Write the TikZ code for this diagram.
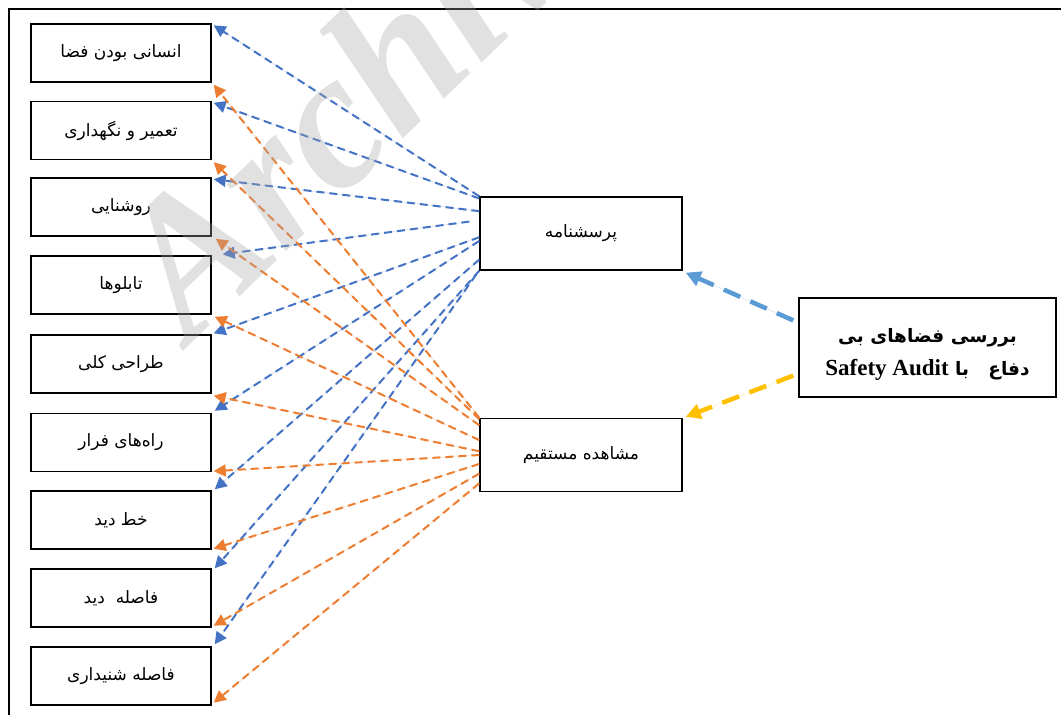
\documentclass[tikz,border=0pt]{standalone}
\usepackage{fontspec}
\setmainfont{Liberation Serif}
\newfontfamily\arabicfont[Script=Arabic]{DejaVu Sans}
\newfontfamily\wmfont{Liberation Serif}
\TeXXeTstate=1
\usetikzlibrary{arrows.meta,calc}
\definecolor{cblue}{HTML}{4472C4}
\definecolor{corange}{HTML}{ED7D31}
\definecolor{clblue}{HTML}{5B9BD5}
\definecolor{cgold}{HTML}{FFC000}
\newcommand\fa[1]{\beginR #1\endR}
\begin{document}
\begin{tikzpicture}[x=1pt,y=-1pt,
  lbox/.style={draw=black, line width=1.4pt, minimum width=180pt, minimum height=58pt, inner sep=0pt,
    font=\arabicfont\fontsize{17}{20}\selectfont},
  mbox/.style={draw=black, line width=1.4pt, minimum width=202pt, minimum height=73pt, inner sep=0pt,
    font=\arabicfont\fontsize{17}{20}\selectfont},
  rbox/.style={draw=black, line width=1.4pt, minimum width=257pt, minimum height=99pt, inner sep=0pt,
    font=\arabicfont\bfseries\fontsize{18.5}{27}\selectfont},
  bline/.style={draw=cblue, line width=2pt, dash pattern=on 8pt off 5pt, -{Triangle[length=12pt,width=12pt]}, fill=cblue},
  oline/.style={draw=corange, line width=2pt, dash pattern=on 8pt off 5pt, -{Triangle[length=12pt,width=12pt]}, fill=corange},
  bigline/.style={line width=4.5pt, dash pattern=on 18pt off 11pt, -{Triangle[length=15pt,width=15pt]}},
  wm/.style={rotate=44, anchor=base west, text=black!35, opacity=0.33, inner sep=0pt,
    font=\wmfont\bfseries\itshape\fontsize{195}{195}\selectfont}
]
\useasboundingbox (0,0) rectangle (1061,715);
\clip (0,0) rectangle (1061,715);
\fill[white] (0,0) rectangle (1061,715);
% frame
\draw[line width=2pt] (8.5,715) -- (8.5,8.5) -- (1061,8.5);

% left boxes
\node[lbox] (b1) at (121,53) {\fa{انسانی بودن فضا}};
\node[lbox] (b2) at (121,130.5) {\fa{تعمیر و نگهداری}};
\node[lbox] (b3) at (121,207) {\fa{روشنایی}};
\node[lbox] (b4) at (121,285) {\fa{تابلوها}};
\node[lbox] (b5) at (121,364) {\fa{طراحی کلی}};
\node[lbox] (b6) at (121,442.5) {\fa{راه‌های فرار}};
\node[lbox] (b7) at (121,520) {\fa{خط دید}};
\node[lbox] (b8) at (121,598) {\fa{فاصله\ \ دید}};
\node[lbox] (b9) at (121,676) {\fa{فاصله شنیداری}};

% middle boxes
\node[mbox] (p) at (581,233.5) {\fa{پرسشنامه}};
\node[mbox] (m) at (581,455) {\fa{مشاهده مستقیم}};

% right box
\node[rbox] (r) at (927.5,347.5) {\raisebox{-10pt}[0pt][0pt]{\begin{tabular}{@{}c@{}}\fa{بررسی فضاهای بی}\\[6pt]\fa{دفاع\ \ \ با \beginL{\rmfamily\bfseries\fontsize{23}{26}\selectfont Safety Audit}\endL}\end{tabular}}};

% blue connectors
\coordinate (pb1) at ($(p.north west)!0.00!(p.south west)$);
\coordinate (pb2) at ($(p.north west)!0.03!(p.south west)$);
\coordinate (pb3) at ($(p.north west)!0.20!(p.south west)$);
\coordinate (pb4) at ($(p.north west)!0.34!(p.south west)+(-10,0)$);
\coordinate (pb5) at ($(p.north west)!0.55!(p.south west)$);
\coordinate (pb6) at ($(p.north west)!0.60!(p.south west)$);
\coordinate (pb7) at ($(p.north west)!0.85!(p.south west)$);
\coordinate (pb8) at ($(p.north west)!1.00!(p.south west)$);
\coordinate (pb9) at ($(p.north west)!1.05!(p.south west)+(-3,0)$);
\draw[bline] (pb1) -- ($(b1.north east)+(2,2)$);
\draw[bline] (pb2) -- ($(b2.north east)+(2,2)$);
\draw[bline] (pb3) -- ($(b3.north east)+(2,2)$);
\draw[bline] (pb4) -- ($(b4.north east)+(11,-1)$);
\draw[bline] (pb5) -- ($(b5.north east)+(2,-1)$);
\draw[bline] (pb6) -- ($(b6.north east)+(3,-2)$);
\draw[bline] (pb7) -- ($(b7.north east)+(3,-1)$);
\draw[bline] (pb8) -- ($(b8.north east)+(3,0)$);
\draw[bline] (pb9) -- ($(b9.north east)+(3,-2)$);

% orange connectors
\coordinate (mo1) at ($(m.north west)!0.00!(m.south west)$);
\coordinate (mo2) at ($(m.north west)!0.02!(m.south west)$);
\coordinate (mo3) at ($(m.north west)!0.10!(m.south west)$);
\coordinate (mo4) at ($(m.north west)!0.30!(m.south west)$);
\coordinate (mo5) at ($(m.north west)!0.45!(m.south west)$);
\coordinate (mo6) at ($(m.north west)!0.50!(m.south west)$);
\coordinate (mo7) at ($(m.north west)!0.62!(m.south west)$);
\coordinate (mo8) at ($(m.north west)!0.75!(m.south west)$);
\coordinate (mo9) at ($(m.north west)!0.88!(m.south west)$);
\draw[oline] (mo1) -- ($(b1.south east)+(2,2)$);
\draw[oline] (mo2) -- ($(b2.south east)+(2,2)$);
\draw[oline] (mo3) -- ($(b3.south east)+(4,2)$);
\draw[oline] (mo4) -- ($(b4.south east)+(3,2)$);
\draw[oline] (mo5) -- ($(b5.south east)+(2,2)$);
\draw[oline] (mo6) -- ($(b6.south east)+(2,-1)$);
\draw[oline] (mo7) -- ($(b7.south east)+(2,-1)$);
\draw[oline] (mo8) -- ($(b8.south east)+(2,-2)$);
\draw[oline] (mo9) -- ($(b9.south east)+(2,-3)$);

% thick connectors
\coordinate (r1) at ($(r.north west)!0.23!(r.south west)+(-5,0)$);
\coordinate (r2) at ($(r.north west)!0.78!(r.south west)+(-5,0)$);
\draw[bigline, draw=clblue, fill=clblue] (r1) -- ($(p.south east)+(3,2)$);
\draw[bigline, draw=cgold, fill=cgold] (r2) -- ($(m.north east)+(3,-1)$);

% watermark
\node[wm] (wmark) at (190,345) {Archive};
\end{tikzpicture}
\end{document}
